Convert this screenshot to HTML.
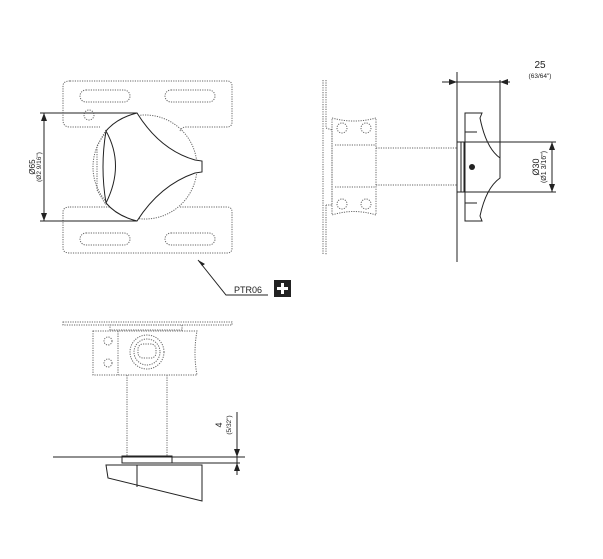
<!DOCTYPE html>
<html><head><meta charset="utf-8"><style>
html,body{margin:0;padding:0;background:#fff;}
svg{display:block;font-family:"Liberation Sans",sans-serif;}
.d{fill:none;stroke:#666;stroke-width:1;stroke-dasharray:1.2 1.2;}
.s{fill:none;stroke:#222;stroke-width:1;}
.t{fill:#222;}
</style></head><body>
<svg width="603" height="559" viewBox="0 0 603 559" xmlns="http://www.w3.org/2000/svg">
<!-- View 1 -->
<path class="d" d="M70,81 H227 Q232,81 232,86 V122 Q232,127 227,127 H186 Q182,127 180,131"/>
<path class="d" d="M70,81 Q63,81 63,86 V120 Q63,127 70,127 H100"/>
<path class="d" d="M70,207 H110 M180,207 H227 Q232,207 232,212 V248 Q232,253 227,253 H70 Q63,253 63,248 V212 Q63,207 70,207"/>
<rect class="d" x="80" y="90" width="50" height="12" rx="6"/>
<rect class="d" x="165" y="90" width="50" height="12" rx="6"/>
<rect class="d" x="80" y="233" width="50" height="12" rx="6"/>
<rect class="d" x="165" y="233" width="50" height="12" rx="6"/>
<circle class="d" cx="89" cy="115" r="5"/>
<circle class="d" cx="145" cy="167" r="52"/>
<path class="d" d="M106,130 L97,146 V190 L106,205"/>
<path fill="#fff" stroke="#222" d="M137,113 Q117,118 106,131 Q125,165 106,203 Q117,216 137,221 Q160,185 195,173 L202,172 V161 L195,160 Q160,150 137,113 Z"/>
<path class="s" d="M106,131 Q100,167 106,203"/>
<line class="s" x1="40" y1="113" x2="137" y2="113"/>
<line class="s" x1="40" y1="221" x2="137" y2="221"/>
<line class="s" x1="44" y1="113" x2="44" y2="221"/>
<path d="M44,113 l-3,8 h6z M44,221 l-3,-8 h6z" fill="#222"/>
<text class="t" font-size="8" transform="translate(35,167) rotate(-90)" text-anchor="middle">Ø65</text>
<text class="t" font-size="6.5" transform="translate(41,167) rotate(-90)" text-anchor="middle">(Ø2 9/16")</text>
<polyline class="s" points="198,260 226,295 268,295" stroke-width="0.8"/>
<path d="M198,260 l7,4 l-3,2 z" fill="#222"/>
<text class="t" font-size="9" x="234" y="293">PTR06</text>
<rect x="274" y="280" width="17" height="17" fill="#222"/>
<path d="M282.5,283 V294 M277,288.5 H288" stroke="#fff" stroke-width="3"/>
<!-- View 2 -->
<line class="d" x1="323" y1="80" x2="323" y2="255"/>
<line class="d" x1="326" y1="80" x2="326" y2="128"/>
<line class="d" x1="326" y1="205" x2="326" y2="255"/>
<path class="d" d="M326,128 L332,130 V205 L326,205"/>
<path class="d" d="M332,118 Q354,124 376,118 V215 Q354,208 332,215 Z"/>
<line class="d" x1="335" y1="145" x2="376" y2="145"/>
<line class="d" x1="335" y1="187" x2="376" y2="187"/>
<circle class="d" cx="342" cy="128" r="5"/><circle class="d" cx="366" cy="128" r="5"/>
<circle class="d" cx="342" cy="204" r="5"/><circle class="d" cx="366" cy="204" r="5"/>
<line class="d" x1="376" y1="148" x2="457" y2="148"/>
<line class="d" x1="376" y1="185" x2="457" y2="185"/>
<line class="s" x1="457" y1="72" x2="457" y2="262"/>
<rect class="s" x="457" y="142" width="7" height="50"/>
<line class="s" x1="461" y1="142" x2="461" y2="192" stroke="#999"/>
<path class="s" d="M465,113 H482 L480,118 Q486,148 500,158 V178 Q486,188 480,216 L482,221 H465 Z"/>
<line class="s" x1="465" y1="132" x2="477" y2="132"/>
<line class="s" x1="465" y1="203" x2="477" y2="203"/>
<circle cx="472" cy="167" r="3" fill="#222"/>
<line class="s" x1="500" y1="80" x2="500" y2="158"/>
<line class="s" x1="442" y1="82" x2="510" y2="82"/>
<path d="M457,82 l-8,-3 v6z M500,82 l8,-3 v6z" fill="#222"/>
<text class="t" font-size="10" x="540" y="68" text-anchor="middle">25</text>
<text class="t" font-size="6.5" x="540" y="78" text-anchor="middle">(63/64")</text>
<line class="s" x1="465" y1="142" x2="556" y2="142"/>
<line class="s" x1="465" y1="192" x2="556" y2="192"/>
<line class="s" x1="552" y1="142" x2="552" y2="192"/>
<path d="M552,142 l-3,8 h6z M552,192 l-3,-8 h6z" fill="#222"/>
<text class="t" font-size="9" transform="translate(539,167) rotate(-90)" text-anchor="middle">Ø30</text>
<text class="t" font-size="7" transform="translate(546,167) rotate(-90)" text-anchor="middle">(Ø1 3/16")</text>
<!-- View 3 -->
<rect class="d" x="63" y="322" width="169" height="3"/>
<rect class="d" x="110" y="325" width="72" height="5"/>
<path class="d" d="M93,331 H197 Q193,353 197,375 H93 Z"/>
<line class="d" x1="118" y1="331" x2="118" y2="375"/>
<circle class="d" cx="108" cy="341" r="4"/><circle class="d" cx="108" cy="363" r="4"/>
<circle class="d" cx="147" cy="352" r="17"/>
<circle class="d" cx="147" cy="352" r="13"/>
<rect class="d" x="138" y="344" width="18" height="14" rx="5"/>
<line class="d" x1="127" y1="375" x2="127" y2="456"/>
<line class="d" x1="167" y1="375" x2="167" y2="456"/>
<line class="s" x1="53" y1="457" x2="245" y2="457"/>
<rect class="s" x="122" y="456" width="50" height="7" fill="#fff"/>
<line class="s" x1="172" y1="463" x2="240" y2="463" stroke="#888"/>
<path class="s" d="M106,465 H202 V501 L108,478 Z"/>
<line class="s" x1="137" y1="465" x2="137" y2="487"/>
<line class="s" x1="237" y1="412" x2="237" y2="475"/>
<path d="M237,457 l-3,-8 h6z M237,463 l-3,8 h6z" fill="#222"/>
<text class="t" font-size="9" transform="translate(222,425) rotate(-90)" text-anchor="middle">4</text>
<text class="t" font-size="6.5" transform="translate(231,425) rotate(-90)" text-anchor="middle">(5/32")</text>
</svg>
</body></html>
